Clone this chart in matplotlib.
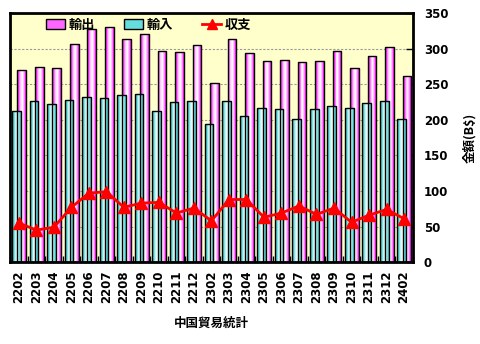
import numpy as np
import matplotlib
matplotlib.use('Agg')
import matplotlib.pyplot as plt
from matplotlib.colors import LinearSegmentedColormap
from matplotlib.patches import Patch
from matplotlib.lines import Line2D

plt.rcParams['font.family'] = ['DejaVu Sans', 'Noto Sans CJK JP']

months = ['2202', '2203', '2204', '2205', '2206', '2207', '2208', '2209', '2210', '2211', '2212',
          '2302', '2303', '2304', '2305', '2306', '2307', '2308', '2309', '2310', '2311', '2312',
          '2402']
exports = [270, 274, 273, 307, 328, 331, 313, 320, 297, 295, 305,
           252, 314, 294, 282, 284, 281, 283, 297, 273, 290, 302, 262]
imports = [213, 227, 222, 228, 232, 231, 235, 236, 212, 225, 227,
           194, 226, 205, 216, 215, 201, 215, 220, 217, 223, 227, 201]
balance = [55, 45, 49, 77, 97, 99, 77, 83, 84, 69, 76,
           58, 88, 88, 63, 69, 79, 67, 76, 56, 66, 74, 61]

cmap_exp = LinearSegmentedColormap.from_list(
    'exp', ['#DD00DD', '#FF44FF', '#FFCCFF', '#FFFFFF', '#FF99FF', '#FF00FF'])
cmap_imp = LinearSegmentedColormap.from_list(
    'imp', ['#1FA0A0', '#55D5D5', '#C8F5F5', '#FFFFFF', '#88E5E5', '#33BBBB'])


def gradient_bars(ax, xs, heights, width, cmap, n=9):
    # stripes side by side to fake the excel gradient fill
    xs = np.asarray(xs, dtype=float)
    sw = width / n
    for k in range(n):
        ax.bar(xs - width / 2 + (k + 0.5) * sw, heights, sw, color=cmap((k + 0.5) / n),
               linewidth=0, zorder=2)
    ax.bar(xs, heights, width, facecolor='none', edgecolor='black', linewidth=1, zorder=3)


fig = plt.figure(figsize=(4.8, 3.44), dpi=100)
ax = fig.add_axes([0.021, 0.238, 0.839, 0.724])
ax.set_facecolor('#FFFFCC')

x = np.arange(len(months))
gradient_bars(ax, x + 0.17, exports, 0.5, cmap_exp)
gradient_bars(ax, x - 0.135, imports, 0.5, cmap_imp)
ax.plot(x, balance, color='red', linewidth=2, marker='^', markersize=8, zorder=5)

ax.set_xlim(-0.5, len(months) - 0.5)
ax.set_ylim(0, 350)
ax.yaxis.grid(True, color='#999999', linestyle=(0, (2, 1.5)), linewidth=0.8)
ax.set_axisbelow(True)

ax.yaxis.tick_right()
ax.yaxis.set_label_position('right')
ax.set_yticks(range(0, 351, 50))
ax.tick_params(axis='y', direction='in', length=5, width=1, labelsize=8.5, pad=8)
ax.set_xticks(x)
ax.set_xticklabels(months, rotation=90)
ax.set_xticks(np.arange(-0.5, len(months), 1), minor=True)
ax.tick_params(axis='x', which='major', length=0, labelsize=8.5, pad=6)
ax.tick_params(axis='x', which='minor', direction='in', length=4, width=1)
for lab in ax.get_xticklabels() + ax.get_yticklabels():
    lab.set_fontweight('bold')
for s in ax.spines.values():
    s.set_linewidth(2)

ax.set_ylabel('金額(B$)', fontsize=9, fontweight='bold', labelpad=10,
              family=['Noto Sans CJK JP', 'DejaVu Sans'])
ax.set_xlabel('中国貿易統計', fontsize=9, fontweight='bold', labelpad=10,
              family=['Noto Sans CJK JP', 'DejaVu Sans'])

handles = [Patch(facecolor='#FF66FF', edgecolor='black'),
           Patch(facecolor='#66DDDD', edgecolor='black'),
           Line2D([], [], color='red', linewidth=2, marker='^', markersize=7)]
ax.legend(handles, ['輸出', '輸入', '収支'], ncol=3, loc='upper left', bbox_to_anchor=(0.06, 1.03),
          frameon=False, handlelength=1.45, handleheight=0.8, handletextpad=0.25, columnspacing=2.2,
          prop={'family': ['Noto Sans CJK JP', 'DejaVu Sans'], 'size': 9.5, 'weight': 'bold'})

fig.savefig('out.png', dpi=100)
